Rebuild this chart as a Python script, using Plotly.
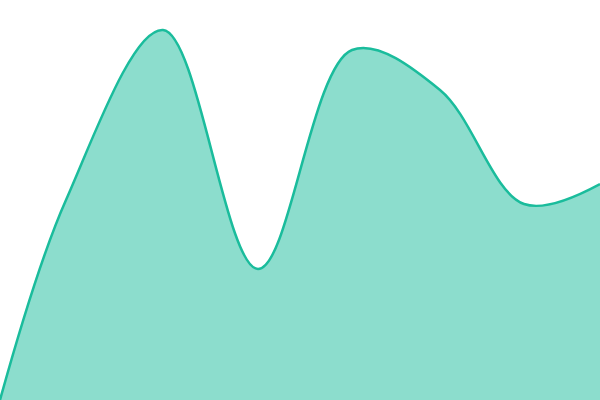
import plotly.graph_objects as go

x_vals = [0, 66, 163, 258, 352, 440, 524, 600]
y_vals = [0, 200, 370, 131, 350, 310, 196, 216]

fig = go.Figure()
fig.add_trace(go.Scatter(
    x=x_vals, y=y_vals, mode="lines", fill="tozeroy",
    line=dict(color="#1abc9c", width=2.5, shape="spline", smoothing=1),
    fillcolor="rgba(26,188,156,0.5)",
    hoverinfo="skip",
))
fig.update_layout(
    width=600, height=400,
    margin=dict(l=0, r=0, t=0, b=0),
    paper_bgcolor="white", plot_bgcolor="white",
    showlegend=False,
    xaxis=dict(range=[0, 600], visible=False, fixedrange=True),
    yaxis=dict(range=[0, 400], visible=False, fixedrange=True),
)
fig.write_html(
    "out.html",
    config={"displayModeBar": False},
    post_script="document.body.style.margin='0';document.body.style.overflow='hidden';",
)
